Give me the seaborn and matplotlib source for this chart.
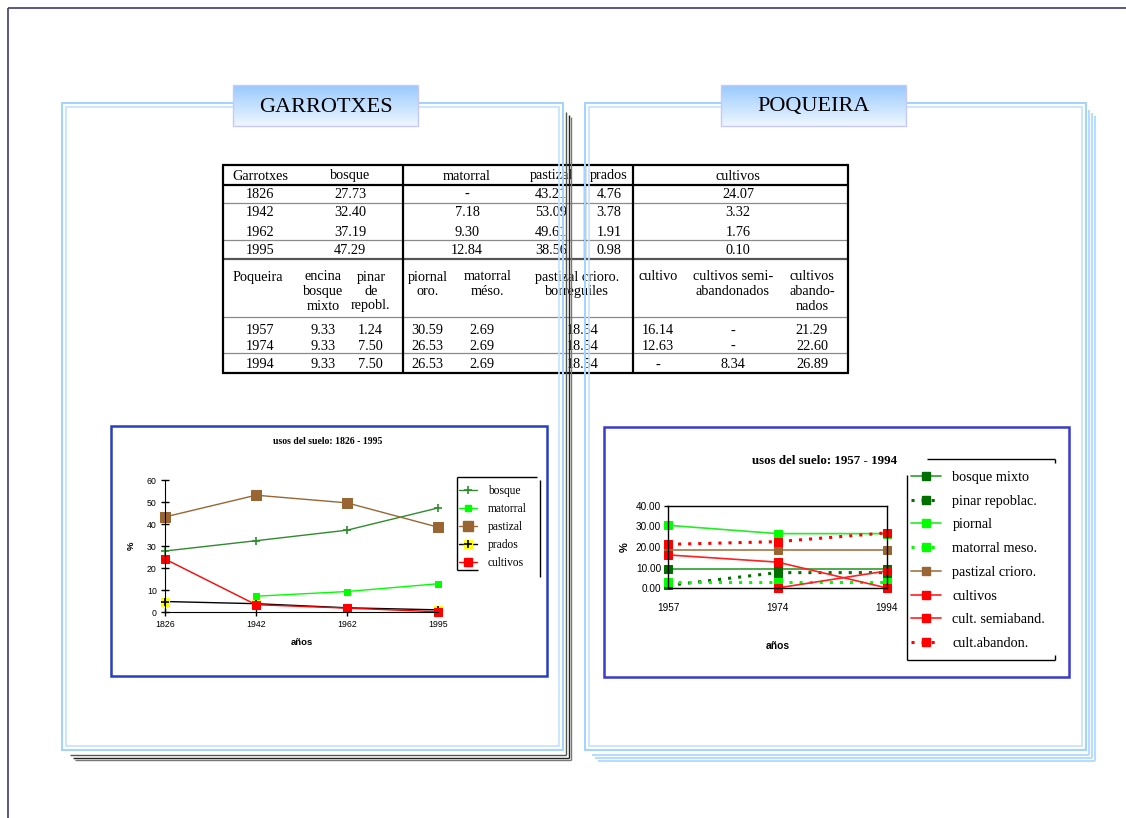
import numpy as np
import matplotlib
matplotlib.use("Agg")
import matplotlib.pyplot as plt
import seaborn as sns
from matplotlib.patches import Rectangle
from matplotlib.lines import Line2D
from matplotlib.colors import LinearSegmentedColormap

# Garrotxes, usos del suelo 1826 - 1995 (%)
g_years = ["1826", "1942", "1962", "1995"]
g_bosque = [27.73, 32.40, 37.19, 47.29]
g_matorral = [np.nan, 7.18, 9.30, 12.84]
g_pastizal = [43.21, 53.09, 49.61, 38.56]
g_prados = [4.76, 3.78, 1.91, 0.98]
g_cultivos = [24.07, 3.32, 1.76, 0.10]

# Poqueira, usos del suelo 1957 - 1994 (%)
p_years = ["1957", "1974", "1994"]
p_bosque_mixto = [9.33, 9.33, 9.33]
p_pinar = [1.24, 7.50, 7.50]
p_piornal = [30.59, 26.53, 26.53]
p_matorral = [2.69, 2.69, 2.69]
p_pastizal = [18.54, 18.54, 18.54]
p_cultivo = [16.14, 12.63, 0.0]      # "-" in the table, plotted as 0
p_semiaband = [np.nan, 0.0, 8.34]
p_abandon = [21.29, 22.60, 26.89]

g_headers = ["Garrotxes", "bosque", "matorral", "pastizal", "prados", "cultivos"]
p_headers = ["Poqueira", "encina\nbosque\nmixto", "pinar\nde\nrepobl.", "piornal\noro.",
             "matorral\nméso.", "pastizal crioro.\nborreguiles", "cultivo",
             "cultivos semi-\nabandonados", "cultivos\nabando-\nnados"]

W, H = 1126, 818
sns.set_style("ticks", {"axes.edgecolor": "black", "text.color": "black",
                        "xtick.color": "black", "ytick.color": "black",
                        "axes.labelcolor": "black"})
plt.rcParams["font.family"] = ["Liberation Serif", "DejaVu Serif"]


def fmt(v):
    if np.isnan(v) or v == 0:
        return "-"
    return f"{v:.2f}"


fig = plt.figure(figsize=(W / 100, H / 100), dpi=100)
bg = fig.add_axes([0, 0, 1, 1], zorder=0)
bg.axis("off")


def seg(x0, x1, y0, y1, color="black", lw=1.0, z=1):
    bg.plot([x0, x1], [y0, y1], color=color, lw=lw, zorder=z, solid_capstyle="butt")


# page border
seg(8, 1126, 8, 8, color="#3c3c78", lw=1.2)
seg(8, 8, 8, 818, color="#3c3c78", lw=1.2)

# panel shadows
for i, c in enumerate(["#555555", "#222222", "#777777"]):
    o = i * 2.5
    seg(566 + o, 566 + o, 112 + o, 755 + o, color=c, lw=1, z=1.5)
    seg(70 + o, 566 + o, 755 + o, 755 + o, color=c, lw=1, z=1.5)
for i in range(3):
    o = i * 3
    seg(1089 + o, 1089 + o, 110 + o, 755 + o, color="#b8dcff", lw=1.5, z=1.5)
    seg(592 + o, 1089 + o, 755 + o, 755 + o, color="#b8dcff", lw=1.5, z=1.5)

# ---- table ----
tfs = 10.3
def ttext(x, y, s):
    bg.text(x, y, s, ha="center", va="center", fontsize=tfs, zorder=1)

g_col_x = [260, 350, 467, 551, 609, 738]
g_row_y = [194, 213, 232, 250]
for x, h in zip(g_col_x, g_headers):
    ttext(x, 176, h)
g_cols = [g_bosque, g_matorral, g_pastizal, g_prados, g_cultivos]
for r, yr in enumerate(g_years):
    ttext(g_col_x[0], g_row_y[r], yr)
    for c, vals in enumerate(g_cols):
        ttext(g_col_x[c + 1], g_row_y[r], fmt(vals[r]))

p_head_x = [258, 323, 371, 428, 488, 577, 658, 733, 812]
p_val_x = [260, 323, 370, 427, 482, 583, 658, 733, 812]
p_row_y = [331, 346, 365]
for x, h in zip(p_head_x, p_headers):
    for k, line in enumerate(h.split("\n")):
        ttext(x, 277 + k * 14.5, line)
p_cols = [p_bosque_mixto, p_pinar, p_piornal, p_matorral, p_pastizal,
          p_cultivo, p_semiaband, p_abandon]
for r, yr in enumerate(p_years):
    ttext(p_val_x[0], p_row_y[r], yr)
    for c, vals in enumerate(p_cols):
        ttext(p_val_x[c + 1], p_row_y[r], fmt(vals[r]))

seg(222, 849, 165, 165, lw=1.6)
seg(222, 849, 185, 185, lw=1.6)
seg(223, 848, 203, 203, color="#8a8a8a", lw=0.9)
seg(223, 848, 240, 240, color="#8a8a8a", lw=0.9)
seg(223, 848, 259, 259, color="#555555", lw=1.6)
seg(223, 848, 317, 317, color="#8a8a8a", lw=0.9)
seg(223, 848, 353, 353, color="#8a8a8a", lw=0.9)
seg(222, 849, 373, 373, lw=1.6)
seg(223, 223, 165, 373, lw=1.6)
seg(848, 848, 165, 373, lw=1.6)
seg(403, 403, 165, 373, lw=1.6)
seg(585, 585, 165, 259, lw=1.6)
seg(633, 633, 165, 373, lw=1.6)

# panel frames (over the table)
for x0 in [62, 585]:
    bg.add_patch(Rectangle((x0, 103), 501, 647, fill=False, ec="#a6d2ff", lw=1.5, zorder=2))
    bg.add_patch(Rectangle((x0 + 4, 107), 493, 639, fill=False, ec="#c2e1ff", lw=1.2, zorder=2))

# header boxes
hdr_cmap = LinearSegmentedColormap.from_list("hdr", ["#99c9ff", "#eef7ff"])
grad = np.linspace(0, 1, 64).reshape(-1, 1)
for x0, name in [(233, "GARROTXES"), (721, "POQUEIRA")]:
    bg.imshow(grad, cmap=hdr_cmap, extent=[x0, x0 + 185, 126, 85], aspect="auto", zorder=3)
    bg.add_patch(Rectangle((x0, 85), 185, 41, fill=False, ec="#c8c8f4", lw=1, zorder=3.1))
    bg.text(x0 + 92.5, 107, name, ha="center", va="center", fontsize=16, zorder=3.2)

# chart boxes
bg.add_patch(Rectangle((111, 426), 436, 250, fc="white", ec="#2440c0", lw=1.8, zorder=3))
bg.add_patch(Rectangle((604, 427), 465, 250, fc="white", ec="#3a3acc", lw=1.8, zorder=3))

# legend frames
for a, b, c, d in [(457, 537, 477, 477), (457, 457, 477, 570), (457, 478, 570, 570),
                   (540, 540, 480, 577),
                   (927, 1055, 459, 459), (1055, 1055, 459, 463), (907, 907, 475, 660),
                   (907, 1055, 660, 660), (1055, 1055, 655, 660)]:
    seg(a, b, c, d, lw=1, z=3.5)

bg.text(328, 442, "usos del suelo: 1826 - 1995", ha="center", va="center",
        fontsize=7, fontweight="bold", zorder=4)
bg.text(824, 461, "usos del suelo: 1957 - 1994", ha="center", va="center",
        fontsize=9.3, fontweight="bold", zorder=4)

bg.set_xlim(0, W)
bg.set_ylim(H, 0)

# ---- left chart ----
axL = fig.add_axes([165 / W, 1 - 612 / H, (438 - 165) / W, (612 - 480) / H], zorder=2)
axL.patch.set_visible(False)
xg = np.arange(len(g_years))
left_series = [
    ("bosque", g_bosque, dict(color="#2e8b2e", marker="+", markersize=6, markeredgewidth=1.2,
                              markeredgecolor="#2e8b2e")),
    ("matorral", g_matorral, dict(color="#00ff00", marker="s", markersize=4.5,
                                  markeredgecolor="#00ff00")),
    ("pastizal", g_pastizal, dict(color="#996633", marker="s", markersize=7.5,
                                  markeredgecolor="#996633")),
    ("prados", g_prados, dict(color="black", marker="s", markersize=6,
                              markerfacecolor="#ffff00", markeredgecolor="#ffff00")),
    ("cultivos", g_cultivos, dict(color="#ff0000", marker="s", markersize=5.5,
                                  markeredgecolor="#ff0000")),
]
handles = []
for name, vals, st in left_series:
    sns.lineplot(x=xg, y=vals, ax=axL, linewidth=1, clip_on=False, errorbar=None, **st)
    h = Line2D([], [], linewidth=1, **st)
    if name == "prados":
        sns.lineplot(x=xg, y=vals, ax=axL, linestyle="none", marker="+", markersize=6,
                     markeredgewidth=1.2, color="black", markeredgecolor="black",
                     clip_on=False, errorbar=None)
        h = (h, Line2D([], [], linestyle="none", marker="+", markersize=6,
                       markeredgewidth=1.2, color="black"))
    handles.append(h)

axL.set_xlim(0, len(g_years) - 1)
axL.set_ylim(0, 60)
axL.set_xticks(xg, g_years)
axL.set_yticks(range(0, 61, 10))
sns.despine(ax=axL)
axL.tick_params(direction="inout", length=6, width=1, labelsize=6.3, pad=3)
for t in axL.get_xticklabels() + axL.get_yticklabels():
    t.set_fontfamily("Liberation Sans")
axL.set_xlabel("años", fontsize=6.8, fontweight="bold", family="Liberation Sans", labelpad=6)
axL.set_ylabel("%", fontsize=6.8, fontweight="bold", family="Liberation Sans", labelpad=8)
axL.legend(handles=handles, labels=[s[0] for s in left_series], loc="upper left",
           bbox_to_anchor=(459 / W, 1 - 485 / H), bbox_transform=fig.transFigure,
           frameon=False, fontsize=8.3, borderpad=0, borderaxespad=0,
           handlelength=1.6, handletextpad=0.9, labelspacing=0.52)

# ---- right chart ----
axR = fig.add_axes([668 / W, 1 - 588 / H, (887 - 668) / W, (588 - 506) / H], zorder=2)
axR.patch.set_visible(False)
xp = np.arange(len(p_years))
dot = (0, (1, 2.3))
right_series = [
    ("bosque mixto", p_bosque_mixto, dict(color="#2e9e2e", linestyle="-", linewidth=1.2,
                                          markerfacecolor="#006e00", markeredgecolor="#006e00")),
    ("pinar repoblac.", p_pinar, dict(color="#007000", linestyle=dot, linewidth=2.2,
                                      markerfacecolor="#007000", markeredgecolor="#007000")),
    ("piornal", p_piornal, dict(color="#22ee22", linestyle="-", linewidth=1.2,
                                markerfacecolor="#00ff00", markeredgecolor="#00ff00")),
    ("matorral meso.", p_matorral, dict(color="#00ff00", linestyle=dot, linewidth=2.2,
                                        markerfacecolor="#00ff00", markeredgecolor="#00ff00")),
    ("pastizal crioro.", p_pastizal, dict(color="#b08a60", linestyle="-", linewidth=1.4,
                                          markerfacecolor="#996633", markeredgecolor="#996633")),
    ("cultivos", p_cultivo, dict(color="#ff2020", linestyle="-", linewidth=1.2,
                                 markerfacecolor="#ff0000", markeredgecolor="#ff0000")),
    ("cult. semiaband.", p_semiaband, dict(color="#ff2020", linestyle="-", linewidth=1.2,
                                           markerfacecolor="#ff0000", markeredgecolor="#ff0000")),
    ("cult.abandon.", p_abandon, dict(color="#ff0000", linestyle=dot, linewidth=2.2,
                                      markerfacecolor="#ff0000", markeredgecolor="#ff0000")),
]
rhandles = []
for name, vals, st in right_series:
    sns.lineplot(x=xp, y=vals, ax=axR, marker="s", markersize=6, clip_on=False,
                 errorbar=None, **st)
    rhandles.append(Line2D([], [], marker="s", markersize=6, **st))

axR.set_xlim(0, len(p_years) - 1)
axR.set_ylim(0, 40)
axR.set_xticks(xp, p_years)
axR.set_yticks(range(0, 41, 10), [f"{v:.2f}" for v in range(0, 41, 10)])
axR.tick_params(axis="y", direction="out", length=3, width=1, labelsize=7.2, pad=2)
axR.tick_params(axis="x", length=0, labelsize=7.2, pad=11)
for sp in axR.spines.values():
    sp.set_color("black")
    sp.set_linewidth(1)
for t in axR.get_xticklabels() + axR.get_yticklabels():
    t.set_fontfamily("Liberation Sans")
axR.set_xlabel("años", fontsize=7.4, fontweight="bold", family="Liberation Sans", labelpad=20)
axR.set_ylabel("%", fontsize=8, fontweight="bold", family="Liberation Sans", labelpad=4)
axR.legend(handles=rhandles, labels=[s[0] for s in right_series], loc="upper left",
           bbox_to_anchor=(911 / W, 1 - 471 / H), bbox_transform=fig.transFigure,
           frameon=False, fontsize=10.3, borderpad=0, borderaxespad=0,
           handlelength=2.1, handletextpad=0.8, labelspacing=0.75)

fig.savefig("out.png", dpi=100)
